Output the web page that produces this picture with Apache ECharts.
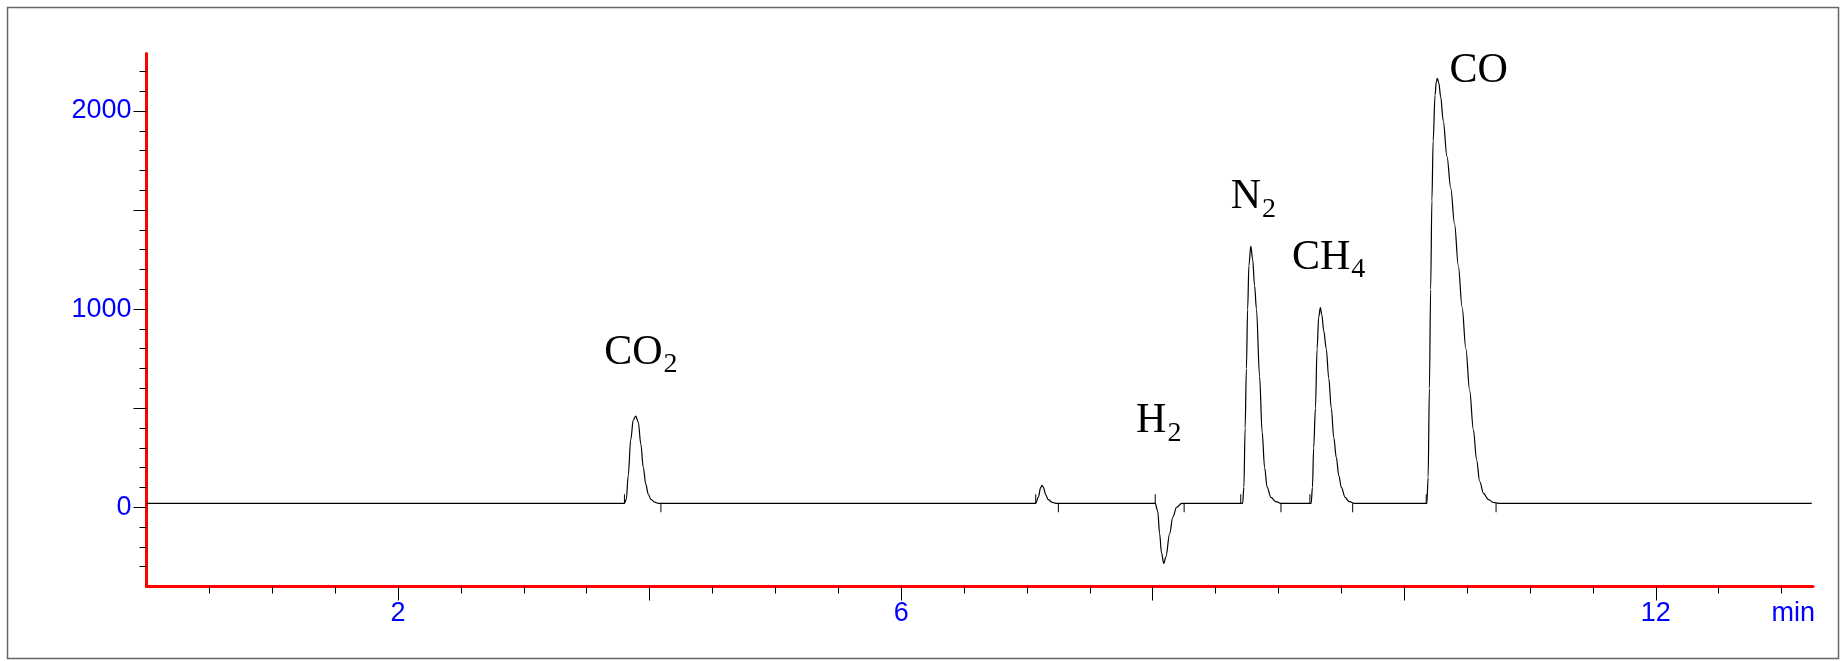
<!DOCTYPE html>
<html>
<head>
<meta charset="utf-8">
<script src="https://cdn.jsdelivr.net/npm/echarts@6/dist/echarts.min.js"></script>
<style>
html,body{margin:0;padding:0;background:#ffffff;}
#c{width:1845px;height:661px;}
</style>
</head>
<body>
<div id="c"></div>
<script>
// ---------------- data ----------------
const baselineLevel = 20;
const leadBaseline = [[0, 20], [3.70, 20]];
const co2Peak = [[3.80,20],[3.815,40],[3.83,160],[3.85,340],[3.87,440],[3.89,460],[3.91,430],[3.93,320],[3.95,200],[3.97,115],[3.99,65],[4.01,40],[4.04,26],[4.07,20]];
const midBaseline1 = [[4.20,20],[6.95,20]];
const smallPeak = [[7.07,20],[7.09,50],[7.11,100],[7.12,110],[7.13,102],[7.15,62],[7.17,38],[7.20,25],[7.23,20]];
const midBaseline2 = [[7.40,20],[7.95,20]];
const h2Peak = [[8.02,20],[8.04,-20],[8.055,-133],[8.07,-230],[8.088,-284],[8.105,-250],[8.135,-133],[8.16,-50],[8.19,0],[8.23,20]];
const midBaseline3 = [[8.40,20],[8.65,20]];
const n2Peak = [[8.715,20],[8.725,100],[8.735,400],[8.745,700],[8.755,1000],[8.765,1220],[8.78,1318],[8.795,1250],[8.81,1120],[8.825,1000],[8.85,660],[8.87,380],[8.89,200],[8.91,100],[8.94,50],[8.98,28],[9.02,20]];
const midBaseline4 = [[9.15,20]];
const ch4Peak = [[9.26,20],[9.27,100],[9.28,300],[9.294,500],[9.307,800],[9.32,960],[9.333,1008],[9.345,970],[9.36,890],[9.38,800],[9.40,650],[9.42,500],[9.44,350],[9.46,250],[9.48,160],[9.50,100],[9.53,50],[9.56,30],[9.60,20]];
const midBaseline5 = [[9.80,20],[10.10,20]];
const coPeak = [[10.18,20],[10.19,150],[10.20,600],[10.21,1100],[10.22,1550],[10.23,1850],[10.245,2080],[10.255,2150],[10.264,2165],[10.275,2140],[10.29,2070],[10.31,1950],[10.34,1770],[10.37,1610],[10.40,1430],[10.43,1220],[10.46,1010],[10.49,800],[10.52,590],[10.55,390],[10.575,240],[10.60,130],[10.63,70],[10.67,38],[10.71,24],[10.75,20]];
const tailBaseline = [[10.90,20],[13.24,20]];

// integration markers (start ticks point up, end ticks point down)
const markerStarts = [3.80, 7.07, 8.02, 8.70, 9.25, 10.175];
const markerEnds = [4.09, 7.25, 8.25, 9.02, 9.59, 10.73];

// peak names
const peakMain = ['CO', 'H', 'N', 'CH', 'CO'];
const peakSub = ['2', '2', '2', '4', ''];
const peakTimes = [3.89, 8.088, 8.78, 9.333, 10.264];
const peakValues = [460, -284, 1318, 1008, 2165];

// axes
const xMinorTicks = [0.5,1,1.5,2.5,3,3.5,4.5,5,5.5,6.5,7,7.5,8.5,9,9.5,10.5,11,11.5,12.5,13];
const xMajorTicks = [2,4,6,8,10,12];
const xLabelValues = [2,6,12];
const yMinorTicks = [-300,-200,-100,100,200,300,400,600,700,800,900,1100,1200,1300,1400,1600,1700,1800,1900,2100,2200];
const yMajorTicks = [0,500,1000,1500,2000];
const yLabelValues = [0,1000,2000];

// ---------------- styles ----------------
const labelOffsets = [[-31.6,-51],[-27.7,-130],[-20,-36.7],[-28.4,-37.3],[12,5]];
const mainFontSize = 42, subFontSize = 28, subDrop = 8;
const serif = '"Liberation Serif", "Times New Roman", serif';
const sans = '"Liberation Sans", Arial, sans-serif';
const mainFont = mainFontSize + 'px ' + serif;
const subFont = subFontSize + 'px ' + serif;
const axisRed = '#ff0000', labelBlue = '#0000ff';
const axisFontSize = 27;
const midToBaseline = 0.29;

const measureCtx = document.createElement('canvas').getContext('2d');
function textWidth(t, f) { measureCtx.font = f; return measureCtx.measureText(t).width; }

const signal = [].concat(leadBaseline, co2Peak, midBaseline1, smallPeak, midBaseline2, h2Peak,
  midBaseline3, n2Peak, midBaseline4, ch4Peak, midBaseline5, coPeak, tailBaseline);
const markerData = markerStarts.map(t => [t, 1]).concat(markerEnds.map(t => [t, -1]));
const labelData = peakTimes.map((t, i) => [t, peakValues[i], i]);

const tickStyle = {color: '#000', width: 1};
const XMIN = 0, XMAX = 13.25, YMIN = -400, YMAX = 2290;
const plain = v => String(v);

const chart = echarts.init(document.getElementById('c'), null, {renderer: 'canvas'});
chart.setOption({
  animation: false,
  backgroundColor: '#ffffff',
  graphic: [{
    type: 'rect', silent: true, z: -10,
    shape: {x: 7.5, y: 7.5, width: 1831, height: 651},
    style: {fill: 'none', stroke: '#666', lineWidth: 1.5}
  }],
  grid: {left: 146.5, top: 53.5, width: 1666.5, height: 533, containLabel: false},
  xAxis: [{
    type: 'value', min: XMIN, max: XMAX, position: 'bottom',
    axisLine: {show: true, onZero: false, lineStyle: {color: axisRed, width: 3}},
    axisTick: {show: true, inside: false, length: 7, customValues: xMinorTicks, lineStyle: tickStyle},
    axisLabel: {show: true, customValues: xLabelValues, formatter: plain, color: labelBlue, fontFamily: sans, fontSize: axisFontSize, margin: 14},
    splitLine: {show: false},
    name: 'min', nameLocation: 'end', nameGap: 2,
    nameTextStyle: {color: labelBlue, fontFamily: sans, fontSize: axisFontSize, align: 'right', verticalAlign: 'top', padding: [14, 0, 0, 0]}
  }, {
    type: 'value', min: XMIN, max: XMAX, position: 'bottom',
    axisLine: {show: false, onZero: false},
    axisTick: {show: true, inside: false, length: 14, customValues: xMajorTicks, lineStyle: tickStyle},
    axisLabel: {show: false},
    splitLine: {show: false}
  }],
  yAxis: [{
    type: 'value', min: YMIN, max: YMAX, position: 'left',
    axisLine: {show: true, onZero: false, lineStyle: {color: axisRed, width: 3}},
    axisTick: {show: true, inside: false, length: 7, customValues: yMinorTicks, lineStyle: tickStyle},
    axisLabel: {show: true, customValues: yLabelValues, formatter: plain, color: labelBlue, fontFamily: sans, fontSize: axisFontSize, margin: 15, padding: [5, 0, 0, 0]},
    splitLine: {show: false}
  }, {
    type: 'value', min: YMIN, max: YMAX, position: 'left',
    axisLine: {show: false, onZero: false},
    axisTick: {show: true, inside: false, length: 13, customValues: yMajorTicks, lineStyle: tickStyle},
    axisLabel: {show: false},
    splitLine: {show: false}
  }],
  series: [{
    type: 'line', xAxisIndex: 0, yAxisIndex: 0,
    data: signal, showSymbol: false, symbol: 'none',
    smooth: 0.35, smoothMonotone: 'x',
    lineStyle: {color: '#000', width: 1.2}, z: 5
  }, {
    type: 'custom', xAxisIndex: 0, yAxisIndex: 0, data: markerData, z: 6,
    renderItem: function (params, api) {
      const p = api.coord([api.value(0), baselineLevel]);
      const dir = api.value(1);
      return {type: 'line', shape: {x1: p[0], y1: p[1], x2: p[0], y2: p[1] - dir * 9},
        style: {stroke: '#000', lineWidth: 1}};
    }
  }, {
    type: 'custom', xAxisIndex: 0, yAxisIndex: 0, data: labelData, z: 7,
    renderItem: function (params, api) {
      const i = api.value(2);
      const p = api.coord([api.value(0), api.value(1)]);
      const off = labelOffsets[i];
      const x = p[0] + off[0];
      const base = p[1] + off[1];
      const w = textWidth(peakMain[i], mainFont);
      return {type: 'group', children: [{
        type: 'text',
        style: {text: peakMain[i], x: x, y: base - midToBaseline * mainFontSize, font: mainFont, fill: '#000',
          align: 'left', textAlign: 'left', verticalAlign: 'middle', textVerticalAlign: 'middle'}
      }, {
        type: 'text',
        style: {text: peakSub[i], x: x + w + 1, y: base + subDrop - midToBaseline * subFontSize, font: subFont, fill: '#000',
          align: 'left', textAlign: 'left', verticalAlign: 'middle', textVerticalAlign: 'middle'}
      }]};
    }
  }]
});
</script>
</body>
</html>
